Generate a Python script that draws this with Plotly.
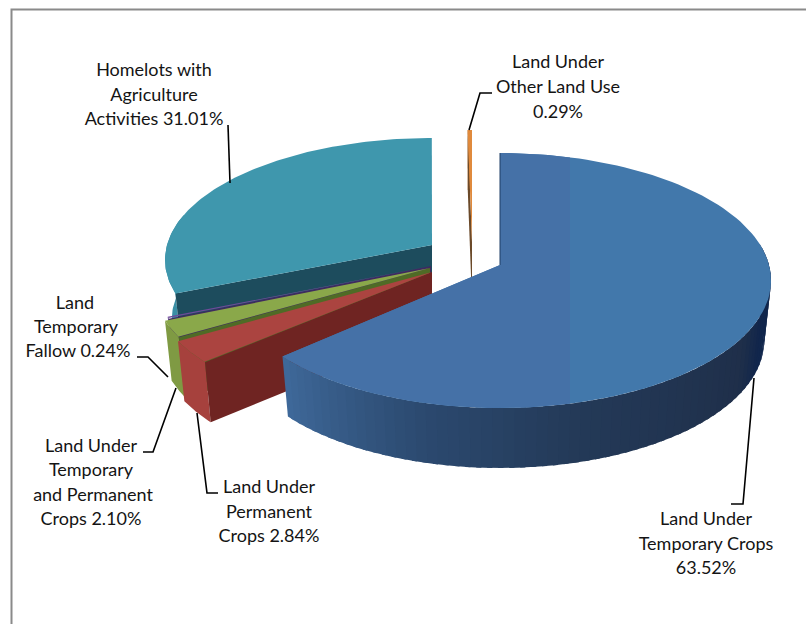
import numpy as np
import plotly.graph_objects as go

# ---- data ----
names = ["Land Under Temporary Crops", "Land Under Permanent Crops",
         "Land Under Temporary and Permanent Crops", "Land Temporary Fallow",
         "Homelots with Agriculture Activities", "Land Under Other Land Use"]
values = [63.52, 2.84, 2.10, 0.24, 31.01, 0.29]
top_colors = ["#4278ab", "#ab4440", "#8aa84a", "#6f4a9a", "#3f97ad", "#e08a3c"]
rim_colors = ["#27405f", "#a6413d", "#7f9a43", "#5f3f88", "#3a8fa5", "#d9893f"]
cut_colors = ["#1f3f66", "#6f2422", "#4f6b26", "#3f2a60", "#1d4c5d", "#6b4a2a"]
label_lines = [["Land Under", "Temporary Crops", "63.52%"],
               ["Land Under", "Permanent", "Crops 2.84%"],
               ["Land Under", "Temporary", "and Permanent", "Crops 2.10%"],
               ["Land", "Temporary", "Fallow 0.24%"],
               ["Homelots with", "Agriculture", "Activities 31.01%"],
               ["Land Under", "Other Land Use", "0.29%"]]

# ---- layout of the exploded 3D pie ----
W, H = 806, 624
apex = [(500, 265), (432, 272), (430, 268), (431, 266), (432, 245), (472, 242)]
radius = [269, 278, 275, 272, 265, 268]
ry = [125.6, 125.6, 125.6, 125.6, 120, 125.6]
nudge = [(0, -0.7), (0, 0), (0, 0), (0, 0), (0, 1.0), (0, 0)]
K, DEPTH, SHRINK = 0.1216, 60, 0.975
label_x = [[706] * 3, [269] * 3, [91, 91, 93, 91], [75, 76, 78], [154] * 3, [558] * 3]
label_y = [[520, 545, 569], [488, 513, 537], [447, 471, 496, 520], [304, 328, 352],
           [71, 96, 120], [63, 88, 113]]
leaders = [[(754, 378), (743, 504), (731, 504)],
           [(197, 413), (207, 493), (218, 493)],
           [(176, 388), (153, 452), (143, 452)],
           [(168, 377), (148, 357), (137, 357)],
           [(230, 183), (228, 125)],
           [(469, 130), (480, 93), (492, 93)]]
TILE_X, TILE_COLOR = 570, "#4571a7"

edges = np.concatenate([[0], np.cumsum(values)]) / np.sum(values) * 360


def rim(i, t, bottom=False):
    t = np.radians(np.asarray(t, dtype=float))
    s = 1 / (1 + K * np.cos(t))
    ax, ay = apex[i]
    dx = radius[i] * np.sin(t) * s
    y = ay - ry[i] * np.cos(t) * s
    if bottom:
        return ax + dx * SHRINK, y + DEPTH
    return ax + dx, y


fig = go.Figure()


def poly(xs, ys, color, name):
    fig.add_trace(go.Scatter(x=list(xs), y=list(ys), mode="lines", fill="toself",
                             fillcolor=color, line=dict(color=color, width=0),
                             hoverinfo="skip", name=name))


def draw_slice(i, rim_from, rim_to):
    a, b = edges[i] + nudge[i][0], edges[i + 1] + nudge[i][1]
    ax, ay = apex[i]
    # outer side
    if i == 0:
        stops = [(80, (0x11, 0x26, 0x4c)), (112, (0x11, 0x26, 0x4c)), (122, (0x1f, 0x2f, 0x4a)),
                 (165, (0x24, 0x3a, 0x58)), (195, (0x2c, 0x4a, 0x70)), (229, (0x40, 0x6b, 0x9c))]
        bands = np.linspace(rim_from, rim_to, 71)
        for u, v in zip(bands[:-1], bands[1:]):
            m = (u + v) / 2
            c = [np.interp(m, [s[0] for s in stops], [s[1][k] for s in stops]) for k in range(3)]
            col = "rgb(%d,%d,%d)" % tuple(c)
            t = np.linspace(u, min(v + 1.0, rim_to), 4)
            x1, y1 = rim(i, t)
            x2, y2 = rim(i, t[::-1], True)
            poly(np.r_[x1, x2], np.r_[y1, y2], col, names[i])
    else:
        t = np.linspace(rim_from, rim_to, 40)
        x1, y1 = rim(i, t)
        x2, y2 = rim(i, t[::-1], True)
        poly(np.r_[x1, x2], np.r_[y1, y2], rim_colors[i], names[i])
    # cut face toward the viewer
    if i != 0:
        x1, y1 = rim(i, a)
        x2, y2 = rim(i, a, True)
        poly([ax, x1, x2, ax], [ay, y1, y2, ay + DEPTH], cut_colors[i], names[i])
    # top face
    t = np.linspace(a, b, 120)
    x, y = rim(i, t)
    poly(np.r_[ax, x, ax], np.r_[ay, y, ay], top_colors[i], names[i])
    if i == 0:
        poly(np.minimum(np.r_[ax, x, ax], TILE_X), np.r_[ay, y, ay], TILE_COLOR, names[i])


draw_slice(5, edges[5], edges[6])
draw_slice(4, edges[4] + nudge[4][0], 285)
draw_slice(3, edges[3], edges[4])
draw_slice(2, edges[2], edges[3])
draw_slice(1, edges[1], edges[2])
draw_slice(0, 80, edges[1] + nudge[0][1])

# thin dark edge at the start of the big slice
ex, ey = rim(0, 0)
fig.add_trace(go.Scatter(x=[ex, apex[0][0]], y=[ey, apex[0][1]], mode="lines",
                         line=dict(color="#1f3f66", width=1), hoverinfo="skip"))

# leader lines
for pts in leaders:
    fig.add_trace(go.Scatter(x=[p[0] for p in pts], y=[p[1] for p in pts], mode="lines",
                             line=dict(color="#000000", width=1.6), hoverinfo="skip"))

# labels
for lines, xs, ys in zip(label_lines, label_x, label_y):
    fig.add_trace(go.Scatter(x=xs, y=ys, mode="text", text=lines, textposition="middle center",
                             textfont=dict(family="Lato", size=18, color="#141414"),
                             hoverinfo="skip"))

fig.update_layout(
    width=W, height=H, margin=dict(l=0, r=0, t=0, b=0), showlegend=False,
    paper_bgcolor="white", plot_bgcolor="white",
    xaxis=dict(range=[0, W], visible=False, fixedrange=True),
    yaxis=dict(range=[H, 0], visible=False, fixedrange=True),
    shapes=[dict(type="rect", x0=11.5, y0=9.5, x1=W + 10, y1=H + 10,
                 line=dict(color="#8a8a8a", width=2), fillcolor="rgba(0,0,0,0)", layer="below")],
)
fig.write_html("out.html", post_script="document.body.style.margin='0';",
               config={"displayModeBar": False})
